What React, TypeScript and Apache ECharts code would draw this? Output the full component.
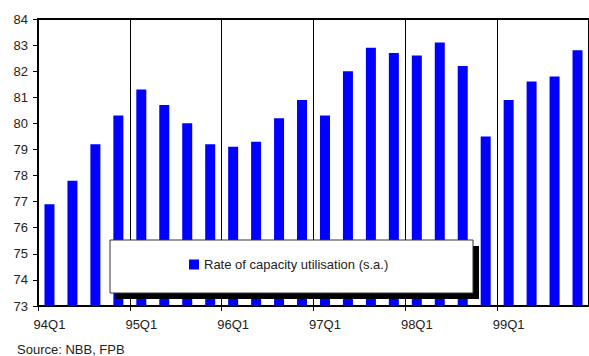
import React, { useEffect, useRef } from "react";
import * as echarts from "echarts";

const categories = [
  "94Q1", "94Q2", "94Q3", "94Q4",
  "95Q1", "95Q2", "95Q3", "95Q4",
  "96Q1", "96Q2", "96Q3", "96Q4",
  "97Q1", "97Q2", "97Q3", "97Q4",
  "98Q1", "98Q2", "98Q3", "98Q4",
  "99Q1", "99Q2", "99Q3", "99Q4",
];
const utilisation = [
  76.9, 77.8, 79.2, 80.3,
  81.3, 80.7, 80.0, 79.2,
  79.1, 79.3, 80.2, 80.9,
  80.3, 82.0, 82.9, 82.7,
  82.6, 83.1, 82.2, 79.5,
  80.9, 81.6, 81.8, 82.8,
];
const seriesName = "Rate of capacity utilisation (s.a.)";
const sourceText = "Source: NBB, FPB";

const FONT = "Liberation Sans, Arial, sans-serif";

export default function App() {
  const ref = useRef<HTMLDivElement>(null);
  useEffect(() => {
    if (!ref.current) return;
    const chart = echarts.init(ref.current, undefined, { renderer: "svg" });
    chart.setOption({
      animation: false,
      backgroundColor: "#fff",
      textStyle: { fontFamily: FONT },
      grid: {
        left: 38,
        top: 19,
        width: 554,
        height: 287,
        show: true,
        borderWidth: 2,
        borderColor: "#000",
      },
      xAxis: {
        type: "category",
        data: categories,
        boundaryGap: true,
        axisLine: { show: true, lineStyle: { color: "#000", width: 2 } },
        axisTick: { show: true, interval: 3, length: 5, lineStyle: { color: "#000" } },
        axisLabel: { interval: 3, color: "#222", fontSize: 13, margin: 12, fontFamily: FONT },
        splitLine: { show: true, interval: 3, lineStyle: { color: "#000", width: 1 } },
      },
      yAxis: {
        type: "value",
        min: 73,
        max: 84,
        interval: 1,
        axisLine: { show: true, lineStyle: { color: "#000", width: 2 } },
        axisTick: { show: true, length: 5, lineStyle: { color: "#000" } },
        axisLabel: { color: "#222", fontSize: 13, margin: 10, fontFamily: FONT },
        splitLine: { show: false },
      },
      legend: {
        data: [seriesName],
        left: 189,
        top: 258,
        padding: 0,
        icon: "rect",
        itemWidth: 10,
        itemHeight: 10,
        z: 30,
        textStyle: { color: "#222", fontSize: 13, fontFamily: FONT },
      },
      graphic: [
        {
          type: "rect",
          z: 20,
          shape: { x: 115, y: 246, width: 364, height: 53 },
          style: { fill: "#000" },
        },
        {
          type: "rect",
          z: 21,
          shape: { x: 110, y: 240, width: 363, height: 53 },
          style: { fill: "#fff", stroke: "#333", lineWidth: 1 },
        },
        {
          type: "text",
          x: 17,
          y: 349,
          style: {
            text: sourceText,
            fill: "#222",
            fontSize: 13,
            fontFamily: FONT,
            verticalAlign: "middle",
          },
        },
      ],
      series: [
        {
          name: seriesName,
          type: "bar",
          data: utilisation,
          barWidth: 10,
          itemStyle: { color: "#0000ff" },
        },
      ],
    });
    return () => chart.dispose();
  }, []);
  return (
    <div
      ref={ref}
      style={{ position: "absolute", left: 0, top: 0, width: 589, height: 356 }}
    />
  );
}
